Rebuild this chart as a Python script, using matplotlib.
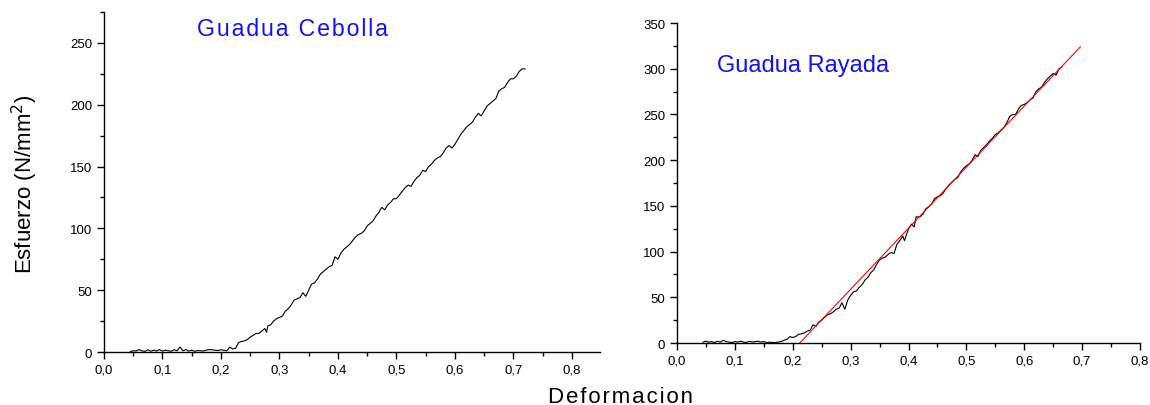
import numpy as np
import matplotlib
matplotlib.use("Agg")
import matplotlib.pyplot as plt
from matplotlib.ticker import MultipleLocator, FuncFormatter

plt.rcParams['font.family'] = ['Liberation Sans', 'DejaVu Sans']

# --- datos: Guadua Cebolla (deformacion, esfuerzo) ---
cebolla_x_bajo = np.round(np.arange(0.045, 0.2101, 0.005), 3)
cebolla_y_bajo = [0.5, 1, 0.8, 2, 1, 0.5, 1.8, 0.6, 1.5, 0.8, 2, 0.7, 1.5, 1, 0.6, 1.8, 1,
                  4, 1, 2, 0.8, 1.5, 0.6, 1.2, 1, 0.8, 1.5, 2, 1.8, 1.5, 1.2, 1.8, 1.4, 1]
cebolla_x_sube = [0.215, 0.22, 0.225, 0.23, 0.235, 0.24, 0.245, 0.25, 0.255, 0.26, 0.265, 0.27,
                  0.275, 0.278, 0.28, 0.285, 0.29, 0.295, 0.30, 0.305, 0.31, 0.315, 0.32, 0.325,
                  0.33, 0.335, 0.34, 0.345, 0.35, 0.355, 0.36, 0.365, 0.37, 0.375, 0.38, 0.385,
                  0.39, 0.395, 0.40, 0.405, 0.41, 0.415, 0.42, 0.425, 0.43, 0.435, 0.44, 0.445,
                  0.45, 0.455, 0.46, 0.465, 0.47, 0.475, 0.48, 0.485, 0.49, 0.495, 0.50, 0.505,
                  0.51, 0.515, 0.52, 0.525, 0.53, 0.535, 0.54, 0.545, 0.55, 0.555, 0.56, 0.565,
                  0.57, 0.575, 0.58, 0.585, 0.59, 0.595, 0.60, 0.605, 0.61, 0.615, 0.62, 0.625,
                  0.63, 0.635, 0.64, 0.645, 0.65, 0.655, 0.66, 0.665, 0.67, 0.675, 0.68, 0.685,
                  0.69, 0.695, 0.70, 0.705, 0.71, 0.715, 0.72]
cebolla_y_sube = [4, 2.5, 3, 7.5, 8.5, 9, 10, 12, 13.5, 15, 15, 17,
                  19, 16, 21, 22, 25, 27, 28, 29, 33, 35, 38, 42,
                  43, 44, 48, 45, 50, 55, 56, 59, 63, 65, 67, 69,
                  70, 77, 75, 80, 83, 85, 87, 90, 93, 95, 96, 98,
                  102, 104, 106, 110, 113, 117, 115, 119, 121, 124, 124, 127,
                  130, 133, 135, 134, 138, 141, 143, 147, 146, 150, 152, 155,
                  157, 158, 161, 165, 167, 165, 168, 172, 176, 179, 182, 184,
                  186, 190, 193, 191, 195, 199, 201, 203, 205, 211, 213, 214,
                  218, 221, 221, 223, 227, 229, 229]

# --- datos: Guadua Rayada ---
rayada_x_bajo = np.round(np.arange(0.045, 0.1751, 0.005), 3)
rayada_y_bajo = [1, 2, 1, 1.5, 0.5, 2, 1, 3, 1.5, 1, 0.5, 1.5, 1, 2, 1, 0.5, 2, 1, 1.5, 2,
                 1, 1.5, 0.5, 1, 0.5, 0.5, 1]
rayada_x_sube = [0.18, 0.185, 0.19, 0.195, 0.20, 0.205, 0.21, 0.215, 0.22, 0.225, 0.23, 0.235,
                 0.24, 0.245, 0.25, 0.255, 0.26, 0.265, 0.27, 0.275, 0.28, 0.285, 0.29, 0.295,
                 0.30, 0.305, 0.31, 0.315, 0.32, 0.325, 0.33, 0.335, 0.34, 0.345, 0.35, 0.355,
                 0.36, 0.365, 0.37, 0.375, 0.38, 0.385, 0.39, 0.393, 0.40, 0.405, 0.41, 0.413,
                 0.42, 0.425, 0.43, 0.435, 0.44, 0.445, 0.45, 0.455, 0.46, 0.465, 0.47, 0.475,
                 0.48, 0.485, 0.49, 0.495, 0.50, 0.505, 0.51, 0.515, 0.52, 0.525, 0.53, 0.535,
                 0.54, 0.545, 0.55, 0.555, 0.56, 0.565, 0.57, 0.575, 0.58, 0.585, 0.59, 0.595,
                 0.60, 0.605, 0.61, 0.615, 0.62, 0.625, 0.63, 0.635, 0.64, 0.645, 0.65, 0.655,
                 0.66, 0.665]
rayada_y_sube = [1.5, 3, 4, 7, 6, 7, 9.5, 10, 11, 13, 14, 20,
                 18, 23, 25, 28, 31, 32, 34, 37, 38, 44, 37, 47,
                 52, 56, 57, 61, 64, 69, 72, 77, 80, 86, 91, 93,
                 94, 97, 99, 98, 108, 112, 117, 112, 125, 130, 127, 138,
                 138, 141, 147, 149, 152, 158, 160, 161, 164, 169, 173, 176,
                 179, 181, 187, 191, 194, 196, 200, 206, 204, 211, 214, 217,
                 221, 224, 228, 230, 233, 236, 241, 248, 250, 250, 256, 260,
                 261, 263, 266, 268, 275, 278, 280, 285, 289, 292, 295, 293,
                 300, 302]

# recta de ajuste (extremos)
ajuste_x = [0.212, 0.697]
ajuste_y = [0, 324]

cebolla_x = np.concatenate([cebolla_x_bajo, cebolla_x_sube])
cebolla_y = np.concatenate([cebolla_y_bajo, cebolla_y_sube])
rayada_x = np.concatenate([rayada_x_bajo, rayada_x_sube])
rayada_y = np.concatenate([rayada_y_bajo, rayada_y_sube])

coma = FuncFormatter(lambda v, p: f'{v:.1f}'.replace('.', ','))


def estilo(ax, ymax, xmax):
    ax.set_xlim(0, xmax)
    ax.set_ylim(0, ymax)
    for s in ['top', 'right']:
        ax.spines[s].set_visible(False)
    for s in ['left', 'bottom']:
        ax.spines[s].set_linewidth(1.0)
    ax.xaxis.set_major_locator(MultipleLocator(0.1))
    ax.xaxis.set_minor_locator(MultipleLocator(0.05))
    ax.yaxis.set_major_locator(MultipleLocator(50))
    ax.yaxis.set_minor_locator(MultipleLocator(25))
    ax.xaxis.set_major_formatter(coma)
    ax.tick_params(which='major', direction='out', length=5, width=1, labelsize=9.5)
    ax.tick_params(which='minor', direction='out', length=3, width=1)
    ax.patch.set_alpha(0)


fig = plt.figure(figsize=(11.5, 4.06), dpi=100)

ax1 = fig.add_axes([0.0904, 0.1305, 0.4313, 0.8374])
ax1.plot(cebolla_x, cebolla_y, color='black', lw=0.8)
estilo(ax1, 275, 0.848)

ax2 = fig.add_axes([0.5887, 0.1527, 0.4026, 0.788])
ax2.plot(rayada_x, rayada_y, color='black', lw=0.8)
ax2.plot(ajuste_x, ajuste_y, color='red', lw=0.8)
estilo(ax2, 350, 0.8)

fig.text(0.1713, 0.9113, '\u200a'.join('Guadua Cebolla'), color='#1010ff',
         fontsize=16.7, va='baseline')
fig.text(0.6235, 0.8227, 'Guadua Rayada', color='#1010ff', fontsize=17, va='baseline')

fig.text(0.022, 0.547, 'Esfuerzo (N/mm$^2$)', rotation=90, ha='center', va='center',
         fontsize=16)
fig.text(0.54, 0.008, '\u200a'.join('Deformacion'), ha='center', va='baseline', fontsize=16)

fig.savefig('out.png', dpi=100)
